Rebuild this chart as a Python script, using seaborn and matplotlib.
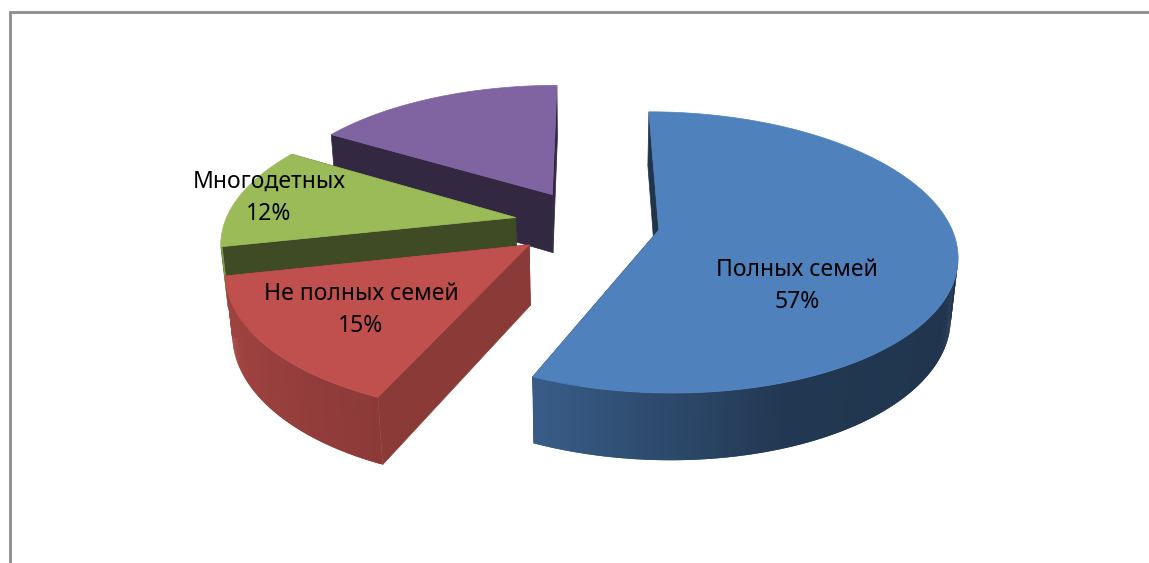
import numpy as np
import matplotlib
matplotlib.use("Agg")
import matplotlib.pyplot as plt
from matplotlib.patches import Polygon
import seaborn as sns

# ---- data ----
labels = ["Полных семей", "Не полных семей", "Многодетных", ""]
values = [56.6, 15.0, 12.0, 16.4]
colors = ["#4f81bd", "#c0504d", "#9bbb59", "#8064a2"]

# ---- styles / geometry ----
WALL_SHADE = [0.40, 0.72, 0.40, 0.40]
DRAW_ORDER = [3, 2, 1, 0]
LABEL_POS = [(797, 286), (361, 310), (269, 198), None]
CX, CY = 587, 223
RADIUS = 291
EXPLODE = 0.25
HEIGHT = 0.235
ELEV = np.radians(27.6)
FOCAL = 5.6

sns.set_theme(style="white")
plt.rcParams["font.family"] = ["Noto Sans", "DejaVu Sans"]

fig, ax = plt.subplots(figsize=(11.49, 5.63), dpi=100)
ax.set_position([0, 0, 1, 1])
ax.set_xlim(0, 1149)
ax.set_ylim(563, 0)
ax.axis("off")

# chart frame, open at right and bottom
ax.plot([10, 10, 1149], [563, 11.5, 11.5], color="#8c8c8c", lw=2.0, solid_joinstyle="miter")


def project(x, y, z):
    """Unit-disc coordinates -> canvas pixels through a perspective camera."""
    x, y, z = map(np.asarray, (x, y, z))
    up = y * np.sin(ELEV) + z * np.cos(ELEV)
    depth = y * np.cos(ELEV) - z * np.sin(ELEV)
    s = FOCAL / (FOCAL + depth)
    return np.column_stack([CX + RADIUS * x * s, CY - RADIUS * up * s])


def rim_shade(deg):
    return np.interp(deg, [100, 160, 205, 259, 360], [0.40, 0.43, 0.73, 0.87, 0.90])


def shaded(color, k):
    return tuple(np.clip(np.array(matplotlib.colors.to_rgb(color)) * k, 0, 1))


fracs = np.array(values) / np.sum(values)
edges = np.concatenate([[0], np.cumsum(fracs) * 360])

for i in DRAW_ORDER:
    z = 2 + DRAW_ORDER.index(i)
    a0, a1 = edges[i], edges[i + 1]
    mid = np.radians((a0 + a1) / 2)
    ox, oy = EXPLODE * np.sin(mid), EXPLODE * np.cos(mid)
    deg = np.linspace(a0, a1, max(int(a1 - a0), 2) * 2 + 1)
    px = ox + np.sin(np.radians(deg))
    py = oy + np.cos(np.radians(deg))
    wall = shaded(colors[i], WALL_SHADE[i])

    # radial walls
    for k in (0, -1):
        quad = np.vstack([
            project([ox, px[k]], [oy, py[k]], [0, 0]),
            project([px[k], ox], [py[k], oy], [-HEIGHT, -HEIGHT]),
        ])
        ax.add_patch(Polygon(quad, closed=True, fc=wall, ec=wall, lw=0.5, zorder=z))

    # outer rim: overlapping strips, only where the rim faces the viewer
    for j in range(len(deg) - 1):
        if np.cos(np.radians(deg[j])) > -0.15 or np.cos(np.radians(deg[j + 1])) > -0.15:
            continue
        xs, ys = px[j:j + 3], py[j:j + 3]
        quad = np.vstack([
            project(xs, ys, np.zeros_like(xs)),
            project(xs[::-1], ys[::-1], np.full_like(xs, -HEIGHT)),
        ])
        c = shaded(colors[i], rim_shade((deg[j] + deg[j + 1]) / 2))
        ax.add_patch(Polygon(quad, closed=True, fc=c, ec="none", zorder=z))

    # top face
    top = np.vstack([
        project([ox], [oy], [0]),
        project(px, py, np.zeros_like(px)),
    ])
    ax.add_patch(Polygon(top, closed=True, fc=colors[i], ec=colors[i], lw=0.5, zorder=z))

for name, val, pos in zip(labels, values, LABEL_POS):
    if name:
        ax.text(pos[0], pos[1], f"{name}\n{val:.0f}%", ha="center", va="center",
                fontsize=16.5, color="black", linespacing=1.42, zorder=20)

fig.savefig("out.png", dpi=100)
